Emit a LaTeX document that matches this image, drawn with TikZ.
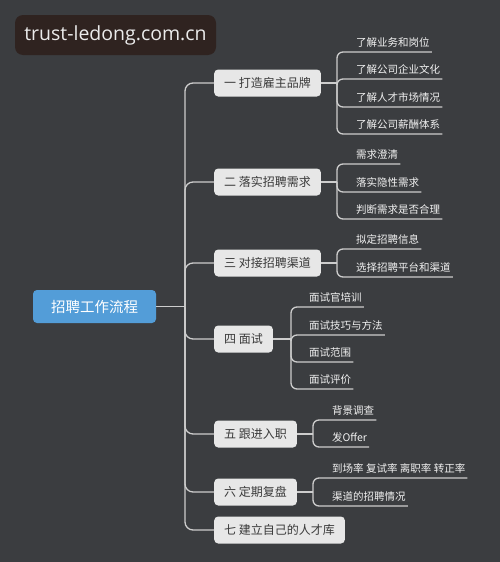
\documentclass[tikz,border=0pt]{standalone}
\usepackage{fontspec}
\newfontfamily\cjk{Noto Sans CJK SC}
\newfontfamily\wmfont{Open Sans}
\definecolor{bgc}{HTML}{3B3D40}
\definecolor{wmc}{HTML}{2F2320}
\definecolor{rootc}{HTML}{539DD8}
\definecolor{boxc}{HTML}{E7E7E7}
\definecolor{boxtxt}{HTML}{3A3A3A}
\definecolor{linec}{HTML}{CDCDCD}
\definecolor{leaftxt}{HTML}{F2F2F2}

\begin{document}
\begin{tikzpicture}[x=1pt,y=-1pt,
  wm/.style={fill=wmc,rounded corners=8pt,text=white!92!black,minimum width=201pt,minimum height=40pt,inner sep=0pt,font=\wmfont\fontsize{19.5}{20}\selectfont},
  root/.style={fill=rootc,rounded corners=4pt,text=white,minimum width=123pt,minimum height=33pt,inner sep=0pt,font=\cjk\fontsize{14.5}{16}\selectfont},
  branch/.style={fill=boxc,rounded corners=4pt,text=boxtxt,anchor=west,minimum height=27pt,inner xsep=10pt,inner ysep=0pt,font=\cjk\fontsize{12}{14}\selectfont},
  leaf/.style={anchor=south west,text=leaftxt,inner xsep=0pt,inner ysep=4pt,font=\cjk\fontsize{10.5}{12}\selectfont},
  link/.style={draw=linec,line width=1.3pt}]
\fill[bgc] (0,0) rectangle (500,562);
\useasboundingbox (0,0) rectangle (500,562);
% watermark
\node (mark) [wm] at (115.5,35) {trust-ledong.com.cn};
% root and branches
\node (root) [root] at (94.5,306.5) {招聘工作流程};
\node (b1) [branch] at (214,83) {一 打造雇主品牌};
\node (b2) [branch] at (214,182) {二 落实招聘需求};
\node (b3) [branch] at (214,263) {三 对接招聘渠道};
\node (b4) [branch] at (214,339) {四 面试};
\node (b5) [branch] at (214,434) {五 跟进入职};
\node (b6) [branch] at (214,492) {六 定期复盘};
\node (b7) [branch] at (214,530) {七 建立自己的人才库};
%
\coordinate (t) at (185,306.5);
\draw[link] (root) -- (t);
\foreach \b in {b1,b2,b3,b4,b5,b6,b7}
  \draw[link,rounded corners=8pt] (t) |- (\b);
% leaves
\coordinate (j1) at (337,83);
\node (l11) [leaf] at (356,52) {了解业务和岗位};
\node (l12) [leaf] at (356,79) {了解公司企业文化};
\node (l13) [leaf] at (356,107) {了解人才市场情况};
\node (l14) [leaf] at (356,134) {了解公司薪酬体系};
%
\coordinate (j2) at (337,182);
\node (l21) [leaf] at (356,164) {需求澄清};
\node (l22) [leaf] at (356,192) {落实隐性需求};
\node (l23) [leaf] at (356,219) {判断需求是否合理};
%
\coordinate (j3) at (337,263);
\node (l31) [leaf] at (356,249) {拟定招聘信息};
\node (l32) [leaf] at (356,277) {选择招聘平台和渠道};
%
\coordinate (j4) at (291,339);
\node (l41) [leaf] at (309,307) {面试官培训};
\node (l42) [leaf] at (309,335) {面试技巧与方法};
\node (l43) [leaf] at (309,362) {面试范围};
\node (l44) [leaf] at (309,389) {面试评价};
%
\coordinate (j5) at (313,434);
\node (l51) [leaf] at (332,420) {背景调查};
\node (l52) [leaf] at (332,447) {发Offer};
%
\coordinate (j6) at (313,492);
\node (l61) [leaf] at (332,478) {到场率 复试率 离职率 转正率};
\node (l62) [leaf] at (332,506) {渠道的招聘情况};
%
\foreach \b/\l in {1/{1,2,3,4},2/{1,2,3},3/{1,2},4/{1,2,3,4},5/{1,2},6/{1,2}} {
  \draw[link] (b\b) -- (j\b);
  \foreach \k in \l
    \draw[link,rounded corners=6pt] (j\b) |- ([xshift=2pt]l\b\k.south east);
}
\end{tikzpicture}
\end{document}
